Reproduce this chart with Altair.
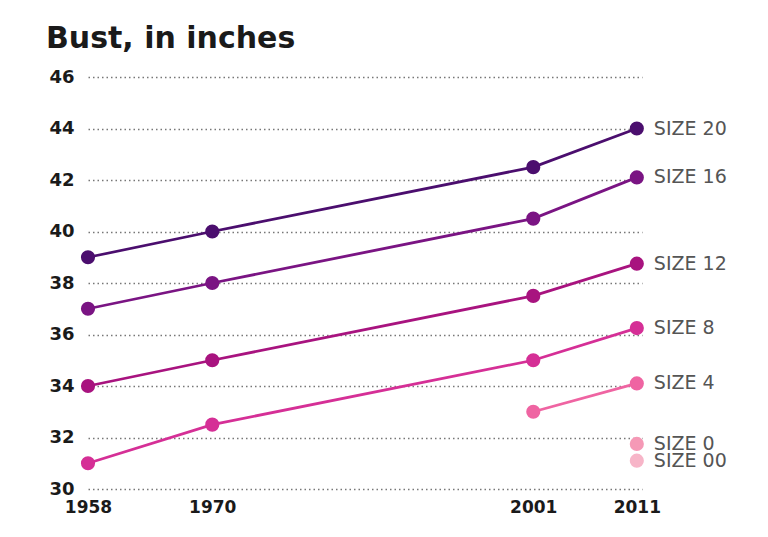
import altair as alt
import pandas as pd

years = [1958, 1970, 2001, 2011]
sizes = ["SIZE 20", "SIZE 16", "SIZE 12", "SIZE 8", "SIZE 4", "SIZE 0", "SIZE 00"]
size20 = [39.0, 40.0, 42.5, 44.0]
size16 = [37.0, 38.0, 40.5, 42.1]
size12 = [34.0, 35.0, 37.5, 38.75]
size8 = [31.0, 32.5, 35.0, 36.25]
size4 = [None, None, 33.0, 34.1]
size0 = [None, None, None, 31.75]
size00 = [None, None, None, 31.1]
colors = ["#4b0e6e", "#7a1483", "#a8137f", "#d52f96", "#ef64a2", "#f599b6", "#f7b5c8"]
y_ticks = [30, 32, 34, 36, 38, 40, 42, 44, 46]

series = [size20, size16, size12, size8, size4, size0, size00]
rows = []
for name, vals in zip(sizes, series):
    for yr, v in zip(years, vals):
        if v is not None:
            rows.append({"year": yr, "bust": v, "size": name})
df = pd.DataFrame(rows)
last = df[df["year"] == 2011]

xs = alt.Scale(domain=[1958, 2011.5], nice=False, zero=False)
ys = alt.Scale(domain=[30, 46], nice=False, zero=False)
cs = alt.Scale(domain=sizes, range=colors)

x_axis = alt.Axis(
    values=years, format="d", grid=False, domain=False, ticks=False,
    labelFlush=False, labelOverlap=False,
    labelFont="DejaVu Sans", labelFontWeight="bold", labelFontSize=17,
    labelColor="#1a1a1a", labelPadding=10, title=None)
y_axis = alt.Axis(
    values=y_ticks, grid=True, gridDash=[1.5, 3], gridColor="#777", gridWidth=1.3,
    domain=False, ticks=False, labelFont="DejaVu Sans", labelFontWeight="bold",
    labelFontSize=18, labelColor="#1a1a1a", labelPadding=14, title=None)
x_enc = alt.X("year:Q", scale=xs, axis=x_axis)
y_enc = alt.Y("bust:Q", scale=ys, axis=y_axis)
c_enc = alt.Color("size:N", scale=cs, legend=None)

base = alt.Chart(df)
lines = base.mark_line(strokeWidth=2.8).encode(x=x_enc, y=y_enc, color=c_enc, detail="size:N")
points = base.mark_circle(size=200, opacity=1).encode(x=x_enc, y=y_enc, color=c_enc)
labels = alt.Chart(last).mark_text(align="left", baseline="middle", dx=17,
                                   font="DejaVu Sans", fontSize=19, color="#555").encode(
    x=x_enc, y=y_enc, text="size:N")

chart = alt.layer(lines, points, labels).properties(
    width=554, height=412,
    title=alt.TitleParams("Bust, in inches", anchor="start", dx=-3, dy=28, offset=18,
                          baseline="alphabetic", font="DejaVu Sans", fontSize=30,
                          fontWeight="bold", color="#1a1a1a"),
    autosize=alt.AutoSizeParams(type="none"),
    padding={"left": 80, "top": 69, "right": 110, "bottom": 40},
).configure(background="white").configure_view(strokeWidth=0, stroke="transparent")

chart.save("out.html", embed_options={"renderer": "svg", "actions": False})
